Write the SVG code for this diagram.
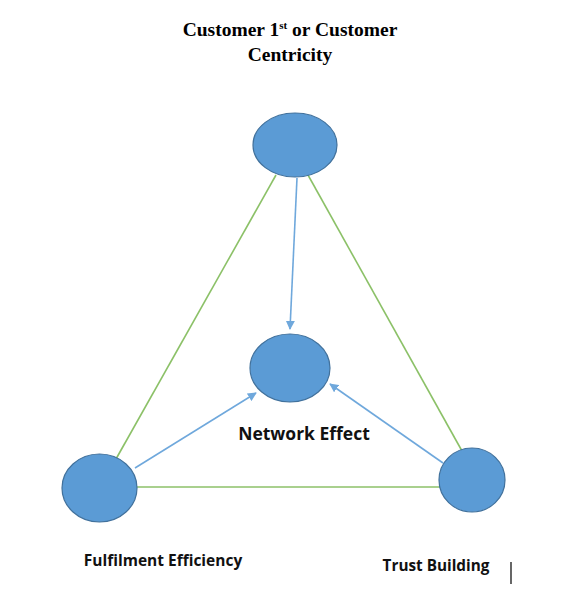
<svg xmlns="http://www.w3.org/2000/svg" width="569" height="591" viewBox="0 0 569 591">
<defs>
<style>
.node{fill:#5B9BD5;stroke:#41719C;stroke-width:1.2}
.green{stroke:#8CC168;stroke-width:1.6;fill:none}
.blue{stroke:#6FA8DC;stroke-width:1.6;fill:none;marker-end:url(#ah)}
.title{font-family:"Liberation Serif",serif;font-weight:bold;font-size:19.5px;fill:#000}
.lbl{font-family:"Open Sans","Liberation Sans",sans-serif;font-weight:bold;fill:#111}
</style>
<marker id="ah" viewBox="0 0 10 10" refX="9" refY="5" markerWidth="9" markerHeight="9" orient="auto" markerUnits="userSpaceOnUse">
<path d="M0,0 L10,5 L0,10 z" fill="#6FA8DC"/>
</marker>
</defs>
<rect width="569" height="591" fill="#fff"/>
<text class="title" x="290" y="36" text-anchor="middle">Customer 1<tspan font-size="11" dy="-7">st</tspan><tspan dy="7"> or Customer</tspan></text>
<text class="title" x="290" y="61" text-anchor="middle">Centricity</text>
<g id="connectors">
<line class="green" x1="276" y1="175" x2="116" y2="459"/>
<line class="green" x1="308" y1="175" x2="462" y2="451"/>
<line class="green" x1="137" y1="487" x2="440" y2="487"/>
<line class="blue" x1="297" y1="178" x2="290" y2="329"/>
<line class="blue" x1="135" y1="468" x2="256" y2="393"/>
<line class="blue" x1="443" y1="463" x2="330" y2="384"/>
</g>
<g id="node-top"><ellipse class="node" cx="295" cy="145" rx="42" ry="32"/></g>
<g id="node-center"><ellipse class="node" cx="290" cy="368" rx="40" ry="34"/>
<text class="lbl" x="304" y="440" font-size="17.5" text-anchor="middle">Network Effect</text></g>
<g id="node-left"><ellipse class="node" cx="99.5" cy="488" rx="37.5" ry="34"/>
<text class="lbl" x="163" y="566" font-size="15.5" text-anchor="middle">Fulfilment  Efficiency</text></g>
<g id="node-right"><ellipse class="node" cx="472" cy="480" rx="33" ry="32"/>
<text class="lbl" x="436" y="571" font-size="15.3" text-anchor="middle">Trust Building</text></g>
<line x1="511" y1="562" x2="511" y2="584" stroke="#000" stroke-width="1.2"/>
</svg>
